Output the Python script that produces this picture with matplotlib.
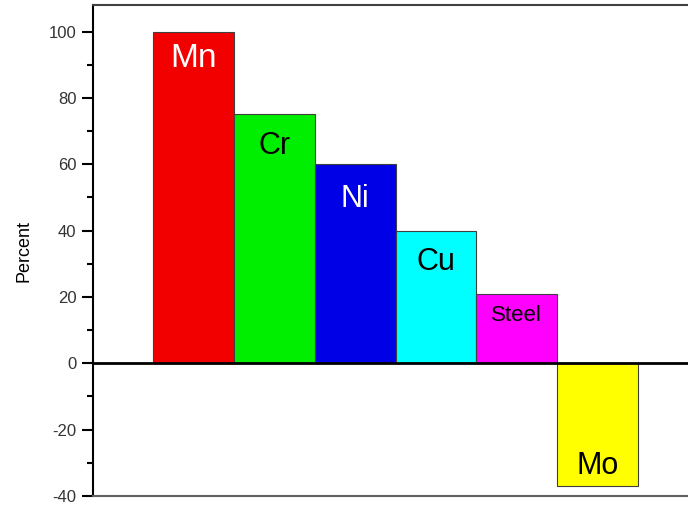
import matplotlib
matplotlib.use("Agg")
import matplotlib.pyplot as plt
from matplotlib.ticker import MultipleLocator

categories = ["Mn", "Cr", "Ni", "Cu", "Steel", "Mo"]
values = [100, 75, 60, 40, 21, -37]
colors = ["#F20000", "#00EE00", "#0000E6", "#00FFFF", "#FF00FF", "#FFFF00"]

label_colors = ["white", "black", "white", "black", "black", "black"]
label_sizes = [24, 22, 22, 22, 16, 22]
label_offsets = [8.1, 9.4, 10.6, 9.6, 6.6, 6.0]

plt.rcParams['font.family'] = ['Liberation Sans', 'DejaVu Sans']
plt.rcParams['axes.unicode_minus'] = False
fig = plt.figure(figsize=(6.88, 5.05), dpi=100)
ax = fig.add_axes([93/688, 9/505, 1 - 93/688 + 0.01, (496-5)/505])

x = list(range(1, len(values) + 1))
ax.bar(x, values, width=1.0, color=colors, edgecolor="#404040", linewidth=0.8, zorder=2)
ax.axhline(0, color="black", linewidth=2, zorder=3)

for xi, v, c, lc, ls, off in zip(x, values, categories, label_colors, label_sizes, label_offsets):
    y = v - off if v >= 0 else v + off
    ax.text(xi, y, c, ha="center", va="center", color=lc, fontsize=ls, zorder=4)

ax.set_xlim(-0.24, 7.2)
ax.set_ylim(-40, 108)
ax.yaxis.set_major_locator(MultipleLocator(20))
ax.yaxis.set_minor_locator(MultipleLocator(10))
ax.set_xticks([])
ax.tick_params(axis="y", which="major", direction="out", length=8, width=1.5, labelsize=12, colors="black", labelcolor="#333333", pad=4)
ax.tick_params(axis="y", which="minor", direction="out", length=4, width=1.5)
ax.spines["right"].set_visible(False)
ax.spines["left"].set_linewidth(1.5)
ax.spines["top"].set_linewidth(1.5)
ax.spines["top"].set_color("#404040")
ax.spines["bottom"].set_linewidth(1.5)
ax.spines["bottom"].set_color("#606060")
ax.set_ylabel("Percent", fontsize=13)
ax.yaxis.set_label_coords(-0.1, 0.5)

fig.savefig("out.png", dpi=100)
